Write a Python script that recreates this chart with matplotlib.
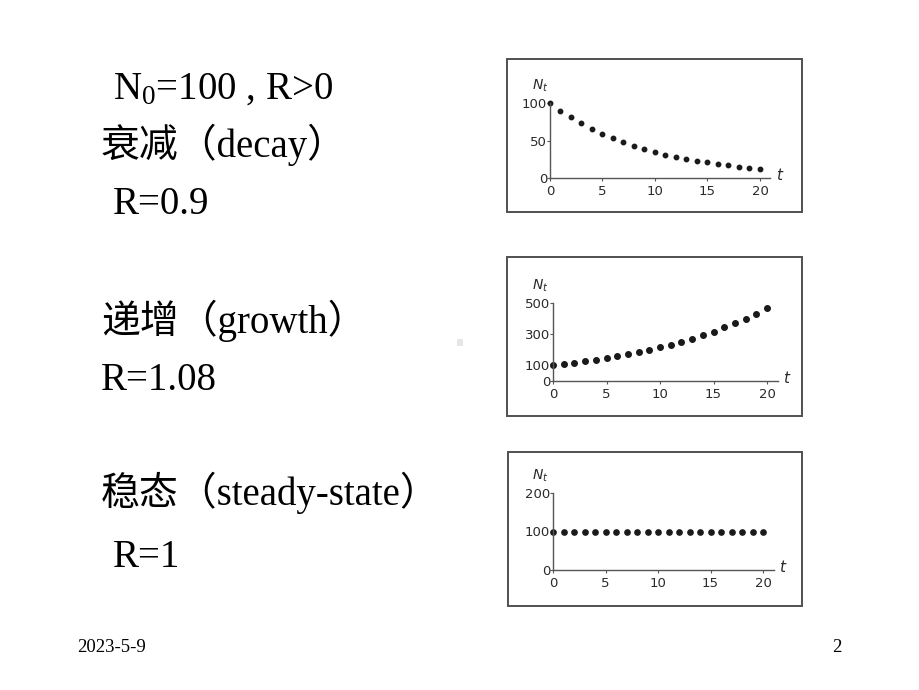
import matplotlib
matplotlib.use('Agg')
import matplotlib.pyplot as plt
from matplotlib.patches import Rectangle

plt.rcParams['mathtext.fontset'] = 'custom'
plt.rcParams['mathtext.rm'] = 'Liberation Serif'
plt.rcParams['mathtext.it'] = 'DejaVu Sans:italic'

W, H = 920, 690

# values
t_vals = [0, 1, 2, 3, 4, 5, 6, 7, 8, 9, 10, 11, 12, 13, 14, 15, 16, 17, 18, 19, 20]
decay_vals = [100, 90, 81, 73, 66, 59, 53, 48, 43, 39, 35, 31, 28, 25, 23, 21, 19, 17, 15, 14, 12]
growth_vals = [100, 108, 117, 126, 136, 147, 159, 171, 185, 200, 216, 233, 252, 272, 294,
               317, 343, 370, 400, 432, 466]
steady_vals = [100] * 21

decay_ticks = [0, 50, 100]
growth_ticks = [0, 100, 300, 500]
steady_ticks = [0, 100, 200]
x_ticks = [0, 5, 10, 15, 20]

serif = ['Liberation Serif', 'Noto Sans CJK SC']

fig = plt.figure(figsize=(9.2, 6.9), dpi=100)
fig.patch.set_facecolor('white')


def fx(px):
    return px / W


def fy(py):
    return 1 - py / H


def put(px, py, s, size, ha='left'):
    fig.text(fx(px), fy(py), s, fontsize=size, family=serif, ha=ha, va='baseline',
             color='black')


# left-hand text
put(113, 99, r'$\mathrm{N_0}$=100 , R>0', 28)
put(101, 157, '衰减（decay）', 28)
put(113, 214, 'R=0.9', 28)
put(101, 333, '递增（growth）', 28)
put(101, 390, 'R=1.08', 28)
put(101, 505, '稳态（steady-state）', 28)
put(113, 567, 'R=1', 28)

put(77, 652, '2023-5-9', 13.5)
put(832, 652, '2', 13.5)

fig.patches.append(Rectangle((fx(457), fy(346)), 6 / W, 7 / H, transform=fig.transFigure,
                             facecolor='#e6e6e6', edgecolor='none'))

# (box left, top, right, bottom), origin x, px per t, y0 px, ytop px, ymax, data, ticks, marker
charts = [
    ((507, 59, 802, 212), 550, 10.5, 178, 103, 100, decay_vals, decay_ticks, 3.2),
    ((507, 257, 802, 416), 553, 10.7, 381, 303, 500, growth_vals, growth_ticks, 4.0),
    ((508, 452, 802, 606), 553, 10.5, 570, 493, 200, steady_vals, steady_ticks, 3.8),
]

for box, x0, ppt, y0, ytop, ymax, vals, yt, ms in charts:
    bl, bt, br, bb = box
    fig.patches.append(Rectangle((fx(bl), fy(bb)), (br - bl) / W, (bb - bt) / H,
                                 transform=fig.transFigure, facecolor='none',
                                 edgecolor='#505050', linewidth=1.4))
    ax = fig.add_axes([fx(x0), fy(y0), 21 * ppt / W, (y0 - ytop) / H])
    ax.set_facecolor('none')
    ax.plot(t_vals, vals, 'o', color='#1a1a1a', markersize=ms, clip_on=False)
    ax.set_xlim(0, 21)
    ax.set_ylim(0, ymax)
    for s in ['top', 'right']:
        ax.spines[s].set_visible(False)
    for s in ['left', 'bottom']:
        ax.spines[s].set_color('#555555')
        ax.spines[s].set_linewidth(1.0)
    ax.set_xticks(x_ticks)
    ax.set_yticks(yt)
    ax.tick_params(length=2, width=0.8, color='#555555', labelsize=9.5, pad=0,
                   labelcolor='#2a2a2a')
    ax.tick_params(axis='x', pad=3)
    for lab in ax.get_xticklabels() + ax.get_yticklabels():
        lab.set_family('DejaVu Sans')
    fig.text(fx(540), fy(ytop - 17), r'$N_t$', fontsize=10, ha='center', va='center',
             color='#2a2a2a')
    fig.text(fx(x0 + 21 * ppt + 10), fy(y0 - 3), r'$t$', fontsize=11, ha='center',
             va='center', color='#2a2a2a')

fig.savefig('out.png', dpi=100, facecolor='white')
